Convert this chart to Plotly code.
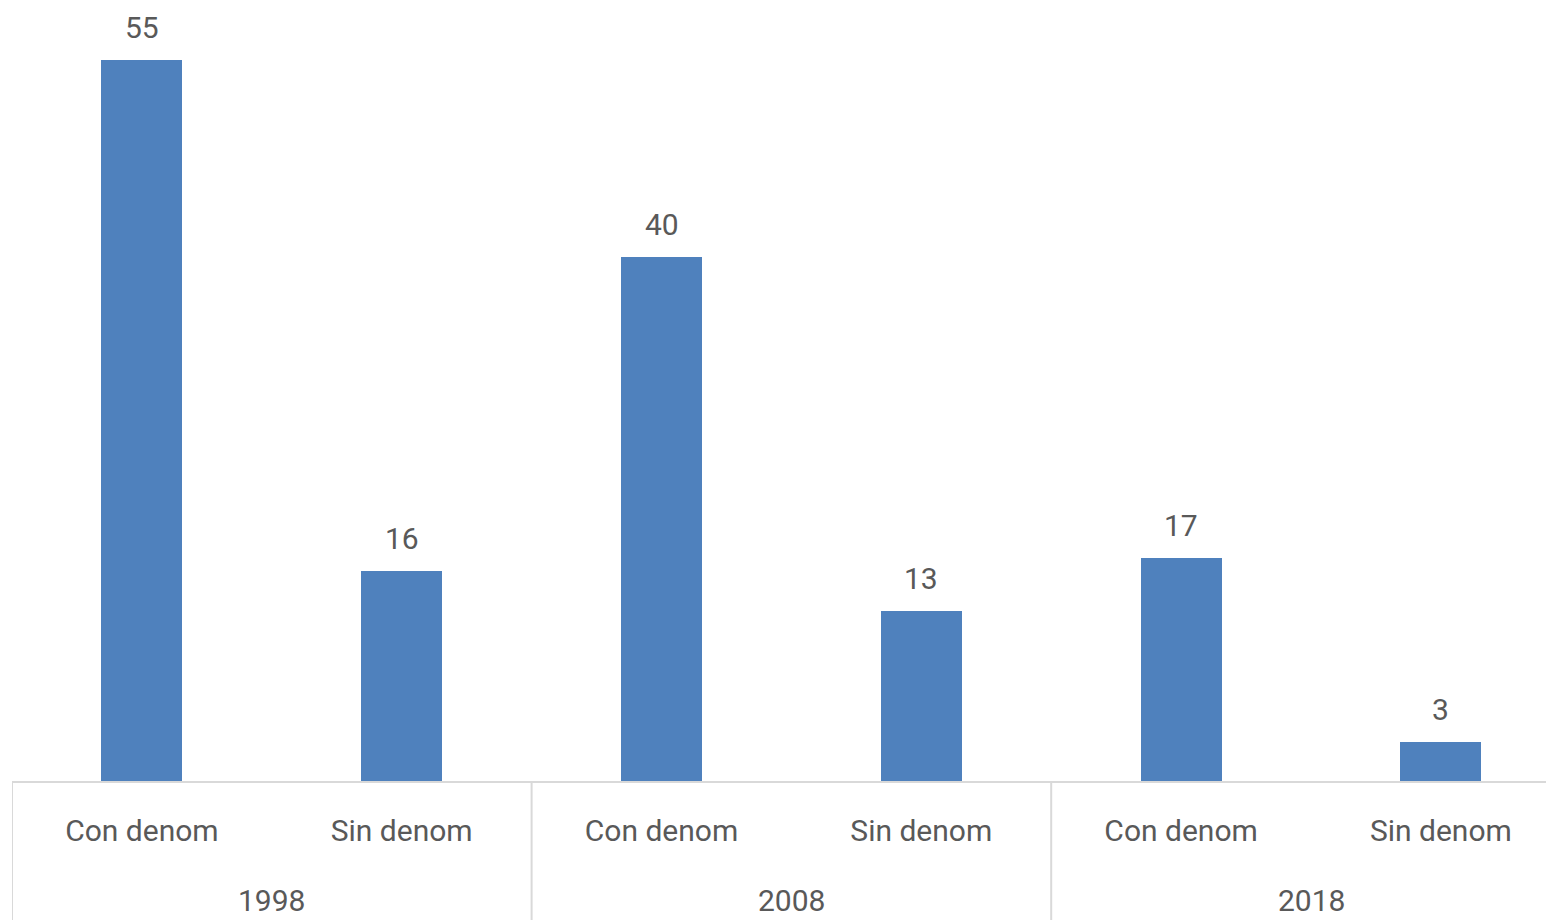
import plotly.graph_objects as go

years = ["1998", "2008", "2018"]
categories = ["Con denom", "Sin denom"]
values = [55, 16, 40, 13, 17, 3]

labels = [c for y in years for c in categories]
xs = list(range(len(values)))

FONT = "Roboto"
TXT = "#595959"
GRID = "#d9d9d9"
BAR = "#4f81bd"
FS = 30

# the page body adds an 8px offset
W, H = 1546, 912
ml, mr, mt, mb = 4, 0, 0, 139
plot_h = H - mt - mb
plot_w = W - ml - mr
cat_px = 259.8

fig = go.Figure()
fig.add_trace(go.Bar(x=xs, y=values, width=0.312, marker=dict(color=BAR, line=dict(width=0)),
                     hoverinfo="skip"))

# data labels
for x, v in zip(xs, values):
    fig.add_annotation(x=x, y=v, xref="x", yref="y", text=str(v), showarrow=False,
                       yanchor="bottom", yshift=13, font=dict(family=FONT, size=FS, color=TXT))

# group labels and dividers
n = len(categories)
for gi, yr in enumerate(years):
    center = gi * n + (n - 1) / 2
    fig.add_annotation(x=center, y=-119 / plot_h, xref="x", yref="paper", text=yr,
                       showarrow=False, yanchor="middle",
                       font=dict(family=FONT, size=FS, color=TXT))
for b in range(len(years) + 1):
    xb = b * n - 0.5
    fig.add_shape(type="line", x0=xb, x1=xb, y0=0, y1=-mb / plot_h - 0.02, xref="x", yref="paper",
                  line=dict(color=GRID, width=2), layer="above")

fig.update_layout(
    width=W, height=H,
    margin=dict(l=ml, r=mr, t=mt, b=mb, pad=0),
    plot_bgcolor="white", paper_bgcolor="white",
    showlegend=False,
    bargap=0,
    font=dict(family=FONT, size=FS, color=TXT),
    xaxis=dict(range=[-0.5, -0.5 + plot_w / cat_px], tickvals=xs, ticktext=labels,
               showline=True, linecolor=GRID, linewidth=2, showgrid=False, zeroline=False,
               ticks="outside", ticklen=22, tickcolor="rgba(0,0,0,0)",
               tickfont=dict(family=FONT, size=FS, color=TXT), fixedrange=True),
    yaxis=dict(range=[0, plot_h / (721 / 55)], visible=False, fixedrange=True),
)

fig.write_html("out.html", config={"displayModeBar": False},
               post_script="document.body.style.overflow='hidden';")
